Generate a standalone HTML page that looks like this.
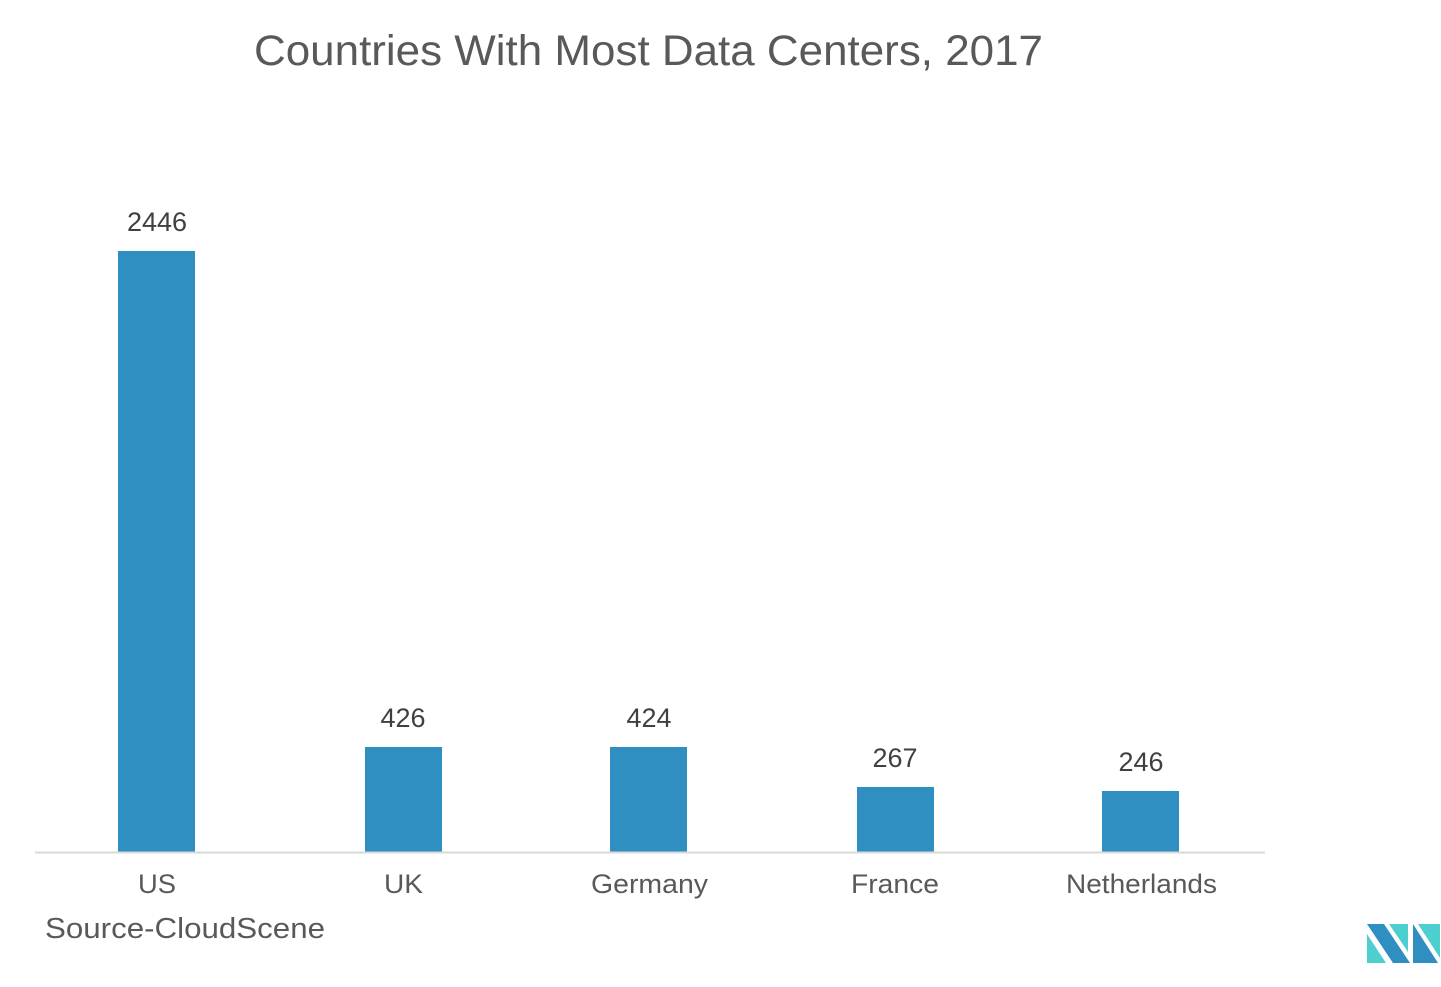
<!DOCTYPE html>
<html><head><style>html,body{margin:0;padding:0;background:#fff}</style></head><body>
<svg width="1441" height="987" xmlns="http://www.w3.org/2000/svg" style="display:block">
<rect width="1441" height="987" fill="#fff"/>
<g font-family="Liberation Sans, Arial, sans-serif">
<text x="254" y="65" font-size="43" fill="#595959" textLength="789" lengthAdjust="spacingAndGlyphs">Countries With Most Data Centers, 2017</text>
<g fill="#2e8fc0">
<rect x="118" y="251" width="77" height="601"/>
<rect x="365" y="747" width="77" height="105"/>
<rect x="610" y="747" width="77" height="105"/>
<rect x="857" y="787" width="77" height="65"/>
<rect x="1102" y="791" width="77" height="61"/>
</g>
<line x1="35" y1="852.5" x2="1265" y2="852.5" stroke="#d9d9d9" stroke-width="2"/>
<g font-size="27" fill="#404040" text-anchor="middle">
<text x="157" y="231">2446</text>
<text x="403" y="727">426</text>
<text x="649" y="727">424</text>
<text x="895" y="767">267</text>
<text x="1141" y="771">246</text>
</g>
<g font-size="27" fill="#595959">
<text x="138" y="893" textLength="38" lengthAdjust="spacingAndGlyphs">US</text>
<text x="384" y="893" textLength="39" lengthAdjust="spacingAndGlyphs">UK</text>
<text x="591" y="893" textLength="117" lengthAdjust="spacingAndGlyphs">Germany</text>
<text x="851" y="893" textLength="88" lengthAdjust="spacingAndGlyphs">France</text>
<text x="1066" y="893" textLength="151" lengthAdjust="spacingAndGlyphs">Netherlands</text>
</g>
<text x="45" y="938" font-size="29" fill="#595959" textLength="280" lengthAdjust="spacingAndGlyphs">Source-CloudScene</text>
</g>
<g>
<polygon points="1367,924 1384,924 1410,963 1393,963" fill="#2e8fc0"/>
<polygon points="1367,934 1386,963 1367,963" fill="#4dcfd0"/>
<polygon points="1389,924 1408,924 1408,952" fill="#4dcfd0"/>
<polygon points="1413,924 1438,963 1413,963" fill="#2e8fc0"/>
<polygon points="1418,924 1440,924 1440,958" fill="#4dcfd0"/>
</g>
</svg>
</body></html>
